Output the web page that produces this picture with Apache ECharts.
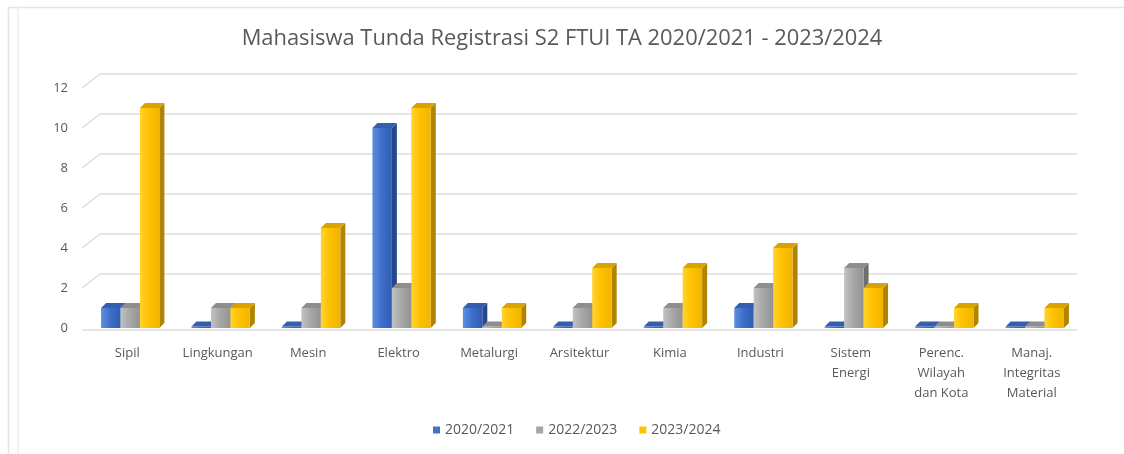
<!DOCTYPE html>
<html>
<head>
<meta charset="utf-8">
<script src="https://cdn.jsdelivr.net/npm/echarts@6/dist/echarts.min.js"></script>
<style>
  html, body { margin: 0; padding: 0; background: #ffffff; }
  #chart { width: 1124px; height: 454px; }
</style>
</head>
<body>
<div id="chart"></div>
<script>
// Study programmes (multi-line names break as printed on the axis)
const categories = [
  'Sipil', 'Lingkungan', 'Mesin', 'Elektro', 'Metalurgi', 'Arsitektur',
  'Kimia', 'Industri', 'Sistem\nEnergi', 'Perenc.\nWilayah\ndan Kota',
  'Manaj.\nIntegritas\nMaterial'
];
// Students postponing registration per academic year
const seriesNames = ['2020/2021', '2022/2023', '2023/2024'];
const values2020 = [1, 0, 0, 10, 1, 0, 0, 1, 0, 0, 0];
const values2022 = [1, 1, 1, 2, 0, 1, 1, 2, 3, 0, 0];
const values2023 = [11, 1, 5, 11, 1, 3, 3, 4, 2, 1, 1];
const yTicks = [0, 2, 4, 6, 8, 10, 12];

// Face colours for each series: front gradient stops, top face, side face
const palettes = [
  { base: '#4472C4', front: ['#5f8fe0', '#3f6fcb', '#2f5cb3'], top: '#345fae', side: '#24488c' },
  { base: '#A5A5A5', front: ['#c2c2c2', '#a8a8a8', '#939393'], top: '#8e8e8e', side: '#6f6f6f' },
  { base: '#FFC000', front: ['#ffd42e', '#ffc000', '#f2b500'], top: '#d9a400', side: '#b08400' }
];

const DEPTH_X = 5, DEPTH_Y = 5;      // bar depth offset
const WALL_X = 18, WALL_Y = 14;      // back wall offset

function barRenderer(k) {
  const pal = palettes[k];
  return function (params, api) {
    const idx = api.value(0);
    const v = api.value(1);
    const base = api.coord([idx, 0]);
    const top = api.coord([idx, v]);
    const band = api.size([1, 0])[0];
    const w = band * 0.215;
    const x0 = base[0] + 3 + (k - 1) * w - w / 2;
    const yb = base[1];
    const yt = Math.min(top[1], yb - 1.5);
    const frontFill = new echarts.graphic.LinearGradient(0, 0, 1, 0, [
      { offset: 0, color: pal.front[0] },
      { offset: 0.45, color: pal.front[1] },
      { offset: 1, color: pal.front[2] }
    ]);
    return {
      type: 'group',
      children: [
        {
          type: 'polygon',
          shape: { points: [[x0 + w, yt], [x0 + w + DEPTH_X, yt - DEPTH_Y], [x0 + w + DEPTH_X, yb - DEPTH_Y], [x0 + w, yb]] },
          style: { fill: pal.side }
        },
        {
          type: 'rect',
          shape: { x: x0, y: yt, width: w, height: yb - yt },
          style: { fill: frontFill }
        },
        {
          type: 'polygon',
          shape: { points: [[x0, yt], [x0 + w, yt], [x0 + w + DEPTH_X, yt - DEPTH_Y], [x0 + DEPTH_X, yt - DEPTH_Y]] },
          style: { fill: pal.top }
        }
      ]
    };
  };
}

// Back wall gridlines with their slanted side-wall segments
function wallRenderer(params, api) {
  const cs = params.coordSys;
  const v = api.value(1);
  const y = api.coord([0, v])[1];
  const stroke = { stroke: '#dcdcdc', lineWidth: 1.4 };
  const children = [];
  if (v === 0) {
    children.push({ type: 'line', shape: { x1: cs.x, y1: y + 2, x2: cs.x + cs.width, y2: y + 2 }, style: stroke });
  } else {
    children.push({ type: 'line', shape: { x1: cs.x, y1: y, x2: cs.x + WALL_X, y2: y - WALL_Y }, style: stroke });
    children.push({ type: 'line', shape: { x1: cs.x + WALL_X, y1: y - WALL_Y, x2: cs.x + cs.width, y2: y - WALL_Y }, style: stroke });
  }
  return { type: 'group', children: children };
}

const seriesValues = [values2020, values2022, values2023];

const series = [{
  type: 'custom',
  silent: true,
  z: 1,
  renderItem: wallRenderer,
  data: yTicks.map(v => [0, v]),
  encode: { x: 0, y: 1 }
}].concat(seriesValues.map((vals, k) => ({
  name: seriesNames[k],
  type: 'custom',
  z: 2 + k,
  itemStyle: { color: palettes[k].base },
  renderItem: barRenderer(k),
  data: vals.map((v, i) => [i, v]),
  encode: { x: 0, y: 1 }
})));

const chart = echarts.init(document.getElementById('chart'), null, { renderer: 'canvas' });
chart.setOption({
  backgroundColor: '#ffffff',
  animation: false,
  graphic: [
    { type: 'rect', left: 6, top: 5, shape: { width: 1200, height: 500 }, style: { fill: 'none', stroke: '#e4e4e4', lineWidth: 1.5 }, z: 0 },
    { type: 'line', shape: { x1: 18, y1: 6, x2: 18, y2: 454 }, style: { stroke: '#f1f1f1', lineWidth: 2 }, z: 0 }
  ],
  title: {
    text: 'Mahasiswa Tunda Registrasi S2 FTUI TA 2020/2021 - 2023/2024',
    left: 'center',
    top: 23,
    textStyle: { fontFamily: 'Open Sans', fontSize: 21.9, fontWeight: 'normal', color: '#595959' }
  },
  legend: {
    data: seriesNames,
    bottom: 12,
    left: 428,
    icon: 'rect',
    itemWidth: 7,
    itemHeight: 7,
    itemGap: 22,
    textStyle: { fontFamily: 'Open Sans', fontSize: 14, color: '#595959' }
  },
  grid: { left: 82, right: 47, top: 88, bottom: 126, containLabel: false },
  xAxis: {
    type: 'category',
    data: categories,
    axisLine: { show: false },
    axisTick: { show: false },
    axisLabel: { interval: 0, fontFamily: 'Open Sans', fontSize: 13, color: '#595959', lineHeight: 20, margin: 15 }
  },
  yAxis: {
    type: 'value',
    min: 0,
    max: 12,
    interval: 2,
    axisLine: { show: false },
    axisTick: { show: false },
    splitLine: { show: false },
    axisLabel: { fontFamily: 'Open Sans', fontSize: 13, color: '#595959', margin: 14 }
  },
  series: series
});
</script>
</body>
</html>
